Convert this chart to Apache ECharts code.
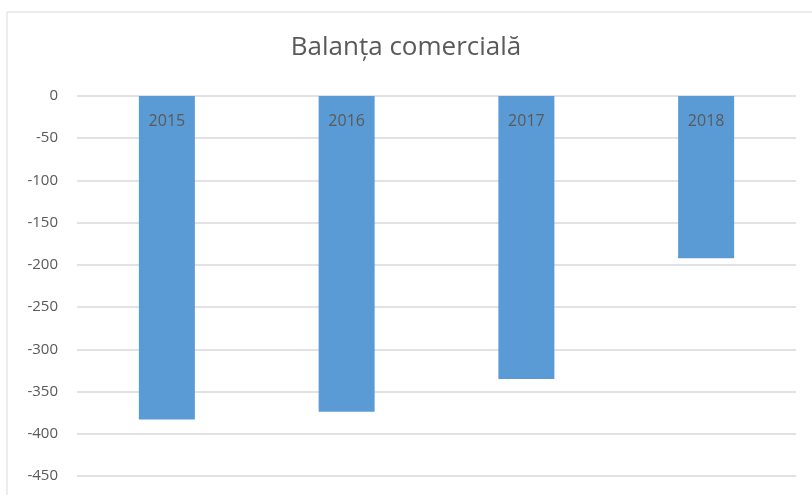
<!DOCTYPE html>
<html>
<head>
<meta charset="utf-8">
<script src="https://cdn.jsdelivr.net/npm/echarts@6/dist/echarts.min.js"></script>
<style>
  html, body { margin: 0; padding: 0; background: #fff; }
  #myChart { width: 812px; height: 495px; }
</style>
</head>
<body>
<div id="myChart"></div>
<script>
  // date
  var years = ['2015', '2016', '2017', '2018'];
  var balanta = [-383, -374, -335, -192];
  var yTicks = { min: -450, max: 0, interval: 50 };

  var myChart = echarts.init(document.getElementById('myChart'));

  myChart.setOption({
    animation: false,
    textStyle: { fontFamily: '"Open Sans", Lato, sans-serif' },
    title: {
      text: 'Balanța comercială',
      left: 'center',
      top: 30,
      textStyle: { fontSize: 26, fontWeight: 'normal', color: '#595959' }
    },
    graphic: [
      {
        type: 'rect',
        shape: { x: 7, y: 12, width: 820, height: 500 },
        style: { fill: 'none', stroke: '#d9d9d9', lineWidth: 1 }
      }
    ],
    grid: {
      left: 77,
      right: 16,
      top: 96,
      bottom: 19
    },
    xAxis: {
      type: 'category',
      data: years,
      position: 'top',
      axisLine: { show: false },
      axisTick: { show: false },
      axisLabel: { show: false }
    },
    yAxis: {
      type: 'value',
      min: yTicks.min,
      max: yTicks.max,
      interval: yTicks.interval,
      axisLine: { show: false },
      axisTick: { show: false },
      axisLabel: { color: '#595959', fontSize: 15, margin: 19 },
      splitLine: { lineStyle: { color: '#d9d9d9', width: 1.5 } }
    },
    series: [
      {
        name: 'Balanța comercială',
        type: 'bar',
        data: balanta,
        barWidth: 56,
        itemStyle: { color: '#5b9bd5' },
        label: {
          show: true,
          position: 'insideTop',
          distance: 17,
          formatter: '{b}',
          color: '#595959',
          fontSize: 16
        }
      }
    ]
  });
</script>
</body>
</html>
